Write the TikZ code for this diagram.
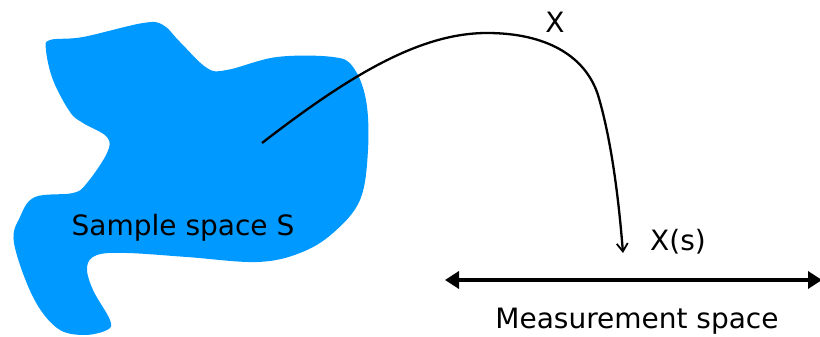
\documentclass[tikz,border=0pt]{standalone}
\usepackage{fontspec}
\setmainfont{DejaVu Sans}
\usetikzlibrary{arrows.meta}
\definecolor{blobblue}{RGB}{0,153,255}
\tikzset{
  lbl/.style={font=\fontsize{28}{32}\selectfont, inner sep=0pt, anchor=base},
  mapline/.style={line width=2.3pt, -{Straight Barb[length=8pt,width=11pt,line width=1.8pt]}},
  axis/.style={line width=4.5pt, {Triangle[length=14pt,width=17pt]}-{Triangle[length=14pt,width=17pt]}}
}
\begin{document}
\begin{tikzpicture}[x=1pt,y=-1pt]
\useasboundingbox (0,0) rectangle (820,337);
% blob (sample space)
\fill[blobblue] plot[smooth cycle, tension=0.6] coordinates {
 (50,40) (83,37) (143,23) (163,25) (180,42) (207,68) (227,70) (277,57)
 (333,57) (353,67) (366,100) (368,150) (360,200) (333,233) (300,253)
 (257,262) (187,257) (127,253) (97,255) (87,267) (93,290) (110,320)
 (107,330) (83,335) (57,328) (33,297) (14,243) (20,217) (35,197)
 (73,193) (87,183) (107,153) (107,137) (83,123) (70,112) (53,80) (46,50)};
\node[lbl] (sS) at (183,235) {Sample space S};
% mapping X
\coordinate (s) at (262,143);
\coordinate (xs) at (623,253);
\draw[mapline] (s) .. controls (350,75) and (420,33) .. (487,33)
  .. controls (545,33) and (585,55) .. (598,95)
  .. controls (610,135) and (618,190) .. (xs);
\node[lbl] (X) at (555,33) {X};
\node[lbl] (Xs) at (678,250) {X(s)};
% measurement space
\coordinate (ml) at (445,280);
\coordinate (mr) at (822,280);
\draw[axis] (ml) -- (mr);
\node[lbl] (ms) at (637,328) {Measurement space};
\end{tikzpicture}
\end{document}
